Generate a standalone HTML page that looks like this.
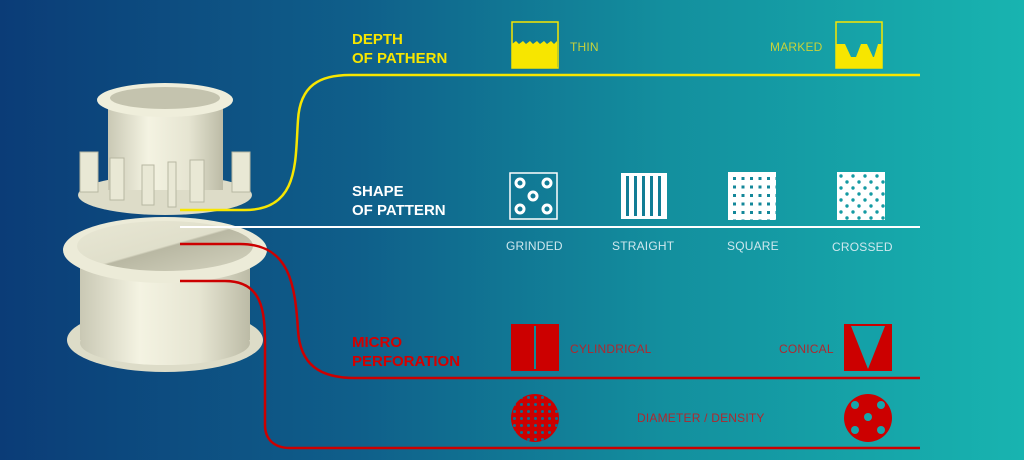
<!DOCTYPE html>
<html><head><meta charset="utf-8"><style>
html,body{margin:0;padding:0}
body{width:1024px;height:460px;overflow:hidden;background:linear-gradient(90deg,#0b3c77 0%,#0f5f8a 35%,#138f9e 65%,#18b4b0 100%);font-family:"Liberation Sans",sans-serif;position:relative}
.t{position:absolute;font-size:12px;letter-spacing:0.2px}
.h{position:absolute;font-weight:bold;font-size:15px;line-height:19px}
</style></head><body>
<svg width="1024" height="460" style="position:absolute;left:0;top:0">
<defs>
<linearGradient id="cr" x1="0" x2="1"><stop offset="0" stop-color="#c9c8b4"/><stop offset="0.35" stop-color="#f4f3e2"/><stop offset="0.7" stop-color="#e6e5d2"/><stop offset="1" stop-color="#bcbba6"/></linearGradient>
<linearGradient id="inn" x1="0" y1="0" x2="1" y2="1"><stop offset="0" stop-color="#e8e7d4"/><stop offset="0.5" stop-color="#e0dfcb"/><stop offset="0.52" stop-color="#b9b8a3"/><stop offset="1" stop-color="#d4d3bf"/></linearGradient>
<pattern id="sq" width="8.5" height="8.5" patternUnits="userSpaceOnUse" x="731" y="175"><rect x="2" y="2" width="3" height="3" fill="#13879a"/></pattern>
<pattern id="cx" width="12" height="12" patternUnits="userSpaceOnUse" x="838" y="173"><circle cx="3" cy="3" r="1.7" fill="#149aa3"/><circle cx="9" cy="9" r="1.7" fill="#149aa3"/></pattern>
<pattern id="rd" width="7" height="7" patternUnits="userSpaceOnUse" x="511" y="394"><circle cx="3.5" cy="3.5" r="1.5" fill="#0f6d90"/></pattern>
</defs>
<!-- lower cylinder -->
<ellipse cx="165" cy="340" rx="98" ry="32" fill="#dddcc8"/>
<rect x="80" y="255" width="170" height="85" fill="url(#cr)"/>
<ellipse cx="165" cy="343" rx="85" ry="22" fill="url(#cr)"/>
<ellipse cx="165" cy="250" rx="102" ry="33" fill="#ecebd8"/>
<ellipse cx="165" cy="246" rx="88" ry="25" fill="url(#inn)"/>
<!-- upper part -->
<ellipse cx="165" cy="195" rx="87" ry="20" fill="#dddcc8"/>
<rect x="108" y="105" width="115" height="85" fill="url(#cr)"/>
<g fill="#e9e8d5" stroke="#b8b7a2" stroke-width="1">
<rect x="80" y="152" width="18" height="40"/><rect x="110" y="158" width="14" height="42"/><rect x="142" y="165" width="12" height="40"/><rect x="168" y="162" width="8" height="45"/><rect x="190" y="160" width="14" height="42"/><rect x="232" y="152" width="18" height="40"/>
</g>
<ellipse cx="165" cy="100" rx="68" ry="17" fill="#efeedb"/>
<ellipse cx="165" cy="98" rx="55" ry="11" fill="#c4c3ae"/>
<!-- lines -->
<path d="M180 210 L245 210 C300 210 295 160 298 120 C300 85 320 75 350 75 L920 75" fill="none" stroke="#f7e600" stroke-width="2.5"/>
<path d="M180 227 L920 227" stroke="#fff" stroke-width="2"/>
<path d="M180 244 L240 244 C290 244 295 285 298 330 C300 365 320 378 355 378 L920 378" fill="none" stroke="#cc0000" stroke-width="2.5"/>
<path d="M180 281 L225 281 C262 281 265 310 265 345 L265 425 C265 440 275 448 290 448 L920 448" fill="none" stroke="#cc0000" stroke-width="2.5"/>
<!-- depth icons -->
<rect x="512" y="22" width="46" height="46" fill="none" stroke="#f7e600" stroke-width="1.5"/>
<path d="M512 44 l4 -3 l3 3 l4 -3 l3 3 l4 -3 l3 3 l4 -3 l3 3 l4 -3 l3 3 l4 -3 l3 3 l3 -3 V68 H512 Z" fill="#f7e600"/>
<rect x="836" y="22" width="46" height="46" fill="none" stroke="#f7e600" stroke-width="1.5"/>
<path d="M836 44 H845 L851 57 H856 L861 44 H867 L873 57 H874 L878 44 H882 V68 H836Z" fill="#f7e600"/>
<!-- shape icons -->
<rect x="510" y="173" width="47" height="46" fill="none" stroke="#fff" stroke-width="1.5"/>
<g fill="none" stroke="#fff" stroke-width="3"><circle cx="520" cy="183" r="4"/><circle cx="547" cy="183" r="4"/><circle cx="533" cy="196" r="4"/><circle cx="520" cy="209" r="4"/><circle cx="547" cy="209" r="4"/></g>
<rect x="621" y="173" width="46" height="46" fill="#fff"/>
<g fill="#117d95"><rect x="626" y="176" width="3" height="40"/><rect x="634" y="176" width="3" height="40"/><rect x="642" y="176" width="3" height="40"/><rect x="650" y="176" width="3" height="40"/><rect x="658" y="176" width="3" height="40"/></g>
<rect x="728" y="172" width="48" height="48" fill="#fff"/><rect x="728" y="172" width="48" height="48" fill="url(#sq)"/>
<rect x="837" y="172" width="48" height="48" fill="#fff"/><rect x="837" y="172" width="48" height="48" fill="url(#cx)"/>
<!-- micro -->
<rect x="511" y="324" width="48" height="47" fill="#cc0000"/><rect x="534" y="326" width="2" height="43" fill="#138a98"/>
<rect x="844" y="324" width="48" height="47" fill="#cc0000"/><path d="M851 326 L885 326 L868 369 Z" fill="#14a1a8"/>
<circle cx="535" cy="418" r="24" fill="#cc0000"/><circle cx="535" cy="418" r="24" fill="url(#rd)"/>
<circle cx="868" cy="418" r="24" fill="#cc0000"/>
<g fill="#16a6ab"><circle cx="855" cy="405" r="4"/><circle cx="881" cy="405" r="4"/><circle cx="868" cy="417" r="4"/><circle cx="855" cy="430" r="4"/><circle cx="881" cy="430" r="4"/></g>
</svg>
<div class="h" style="left:352px;top:30px;color:#f7e600">DEPTH<br>OF PATHERN</div>
<div class="h" style="left:352px;top:182px;color:#fff">SHAPE<br>OF PATTERN</div>
<div class="h" style="left:352px;top:333px;color:#d40000">MICRO<br>PERFORATION</div>
<div class="t" style="left:570px;top:40px;color:#c8d23a">THIN</div>
<div class="t" style="left:770px;top:40px;color:#c8d23a">MARKED</div>
<div class="t" style="left:506px;top:239px;color:#cfe8ee">GRINDED</div>
<div class="t" style="left:612px;top:239px;color:#cfe8ee">STRAIGHT</div>
<div class="t" style="left:727px;top:239px;color:#cfe8ee">SQUARE</div>
<div class="t" style="left:832px;top:240px;color:#cfe8ee">CROSSED</div>
<div class="t" style="left:570px;top:342px;color:#b0282e">CYLINDRICAL</div>
<div class="t" style="left:779px;top:342px;color:#b0282e">CONICAL</div>
<div class="t" style="left:637px;top:411px;color:#b0282e">DIAMETER / DENSITY</div>
</body></html>
